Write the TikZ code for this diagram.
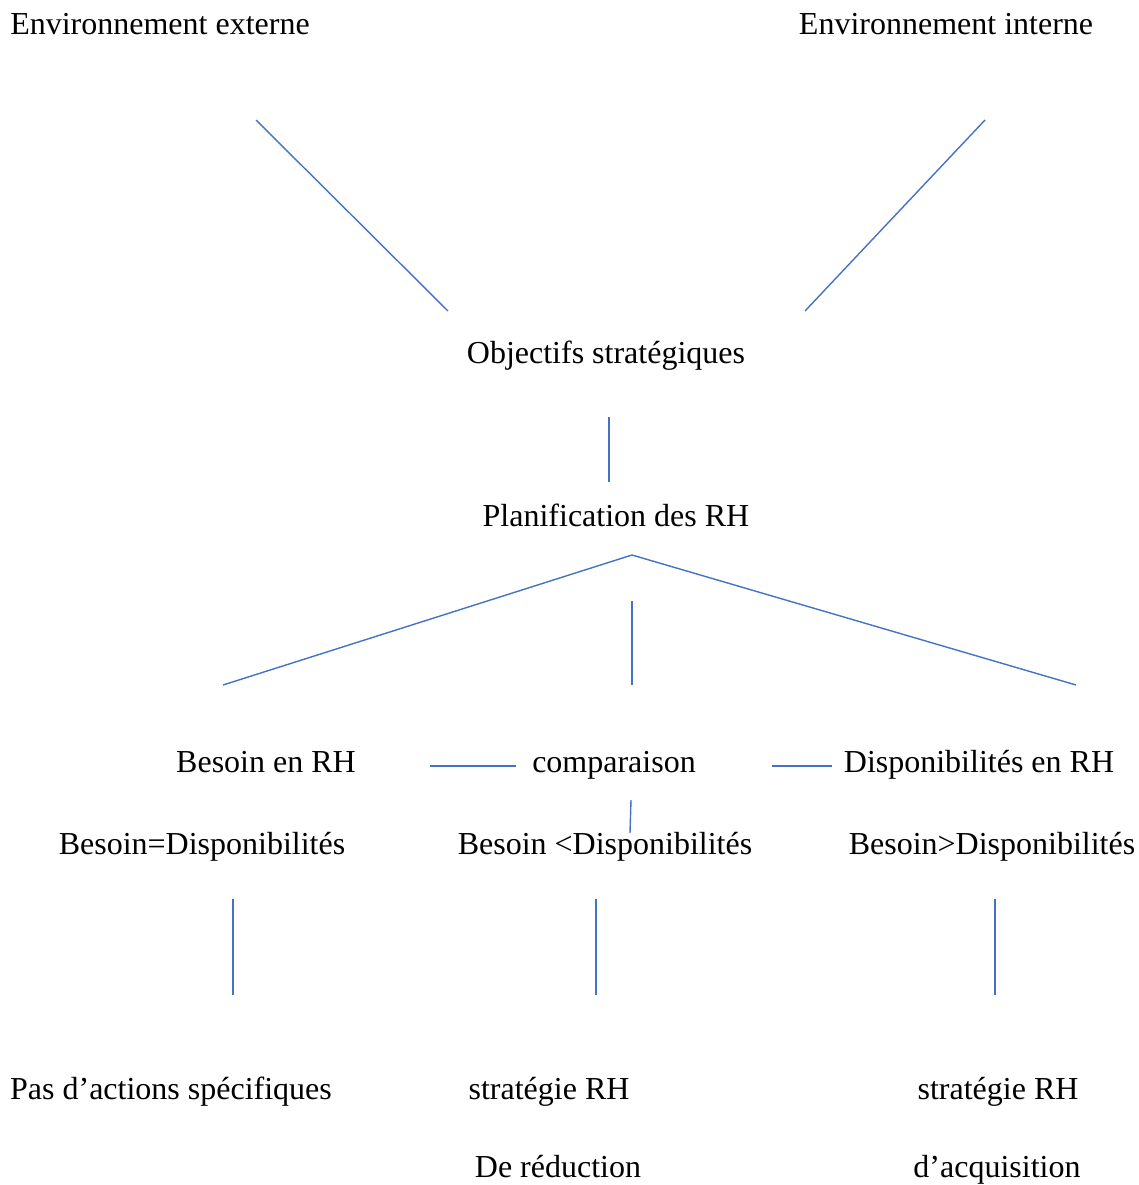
\documentclass[tikz,border=0pt]{standalone}
\usepackage{fontspec}
\setmainfont{Liberation Serif}
\definecolor{lineblue}{HTML}{4472C4}
\begin{document}
\begin{tikzpicture}[x=1pt,y=-1pt,
  lbl/.style={inner sep=0pt,anchor=base,font=\fontsize{32}{38}\selectfont},
  conn/.style={draw=lineblue,line width=1.4pt}]
\useasboundingbox (0,0) rectangle (1139,1185);
% texts
\node[lbl] (ext) at (160,35) {Environnement externe};
\node[lbl] (int) at (946,35) {Environnement interne};
\node[lbl] (obj) at (606,363) {Objectifs stratégiques};
\node[lbl] (plan) at (616,526) {Planification des RH};
\node[lbl] (bes) at (266,772) {Besoin en RH};
\node[lbl] (comp) at (614,772) {comparaison};
\node[lbl] (disp) at (979,772) {Disponibilités en RH};
\node[lbl] (eq) at (202,854) {Besoin=Disponibilités};
\node[lbl] (lt) at (605,854) {Besoin <Disponibilités};
\node[lbl] (gt) at (992,854) {Besoin>Disponibilités};
\node[lbl] (pas) at (171,1099) {Pas d’actions spécifiques};
\node[lbl] (red1) at (549,1099) {stratégie RH};
\node[lbl] (red2) at (558,1177) {De réduction};
\node[lbl] (acq1) at (998,1099) {stratégie RH};
\node[lbl] (acq2) at (997,1177) {d’acquisition};
% connector endpoints
\coordinate (a1) at (256,120); \coordinate (a2) at (448,311);
\coordinate (b1) at (985,120); \coordinate (b2) at (805,311);
\coordinate (c1) at (609,417); \coordinate (c2) at (609,482);
\coordinate (top) at (632,555);
\coordinate (dl) at (223,685); \coordinate (dr) at (1076,685);
\coordinate (m1) at (632,601); \coordinate (m2) at (632,685);
\coordinate (h1) at (430,766); \coordinate (h2) at (516,766);
\coordinate (k1) at (772,766); \coordinate (k2) at (832,766);
\coordinate (s1) at (631,800); \coordinate (s2) at (630,833);
\coordinate (v1) at (233,899); \coordinate (v2) at (233,995);
\coordinate (w1) at (596,899); \coordinate (w2) at (596,995);
\coordinate (u1) at (995,899); \coordinate (u2) at (995,995);
\draw[conn] (a1) -- (a2);
\draw[conn] (b1) -- (b2);
\draw[conn] (c1) -- (c2);
\draw[conn] (dl) -- (top) -- (dr);
\draw[conn] (m1) -- (m2);
\draw[conn] (h1) -- (h2);
\draw[conn] (k1) -- (k2);
\draw[conn] (s1) -- (s2);
\draw[conn] (v1) -- (v2);
\draw[conn] (w1) -- (w2);
\draw[conn] (u1) -- (u2);
\end{tikzpicture}
\end{document}
